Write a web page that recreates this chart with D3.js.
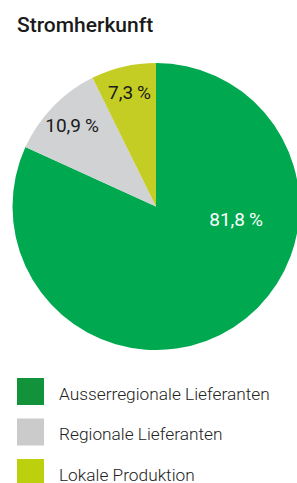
<!DOCTYPE html>
<html>
<head>
<meta charset="utf-8">
<script src="https://cdn.jsdelivr.net/npm/d3@7"></script>
<style>
  html, body { margin: 0; padding: 0; background: #fff; }
  svg { display: block; }
</style>
</head>
<body>
<div id="chart"></div>
<script>
var title = "Stromherkunft";
var categories = ["Ausserregionale Lieferanten", "Regionale Lieferanten", "Lokale Produktion"];
var shares = [81.8, 10.9, 7.3];
var sliceColors = ["#00a94f", "#d1d2d4", "#c4cd23"];
var legendColors = ["#12923a", "#cbcbcb", "#bdd00e"];
var labelColors = ["#ffffff", "#1a1a1a", "#1a1a1a"];

var width = 297, height = 483;
var cx = 156, cy = 206.5, radius = 143.5;

var svg = d3.select("#chart").append("svg")
    .attr("width", width)
    .attr("height", height);

svg.append("text")
    .attr("x", 17)
    .attr("y", 32)
    .attr("font-family", "Roboto, 'Liberation Sans', sans-serif")
    .attr("font-size", 21)
    .attr("font-weight", 500)
    .attr("fill", "#1a1a1a")
    .text(title);

var data = categories.map(function(c, i) { return {name: c, value: shares[i], i: i}; });

var pie = d3.pie()
    .sort(null)
    .value(function(d) { return d.value; });

var arc = d3.arc()
    .innerRadius(0)
    .outerRadius(radius);

var g = svg.append("g")
    .attr("transform", "translate(" + cx + "," + cy + ")");

var slices = pie(data);

g.selectAll("path")
    .data(slices)
  .enter().append("path")
    .attr("d", arc)
    .attr("fill", function(d) { return sliceColors[d.data.i]; });

// small slices: label on the bisector, big slice: label pushed towards the right
function labelPos(d) {
  var a, r;
  if (d.data.i === 0) {
    a = d.startAngle + (d.endAngle - d.startAngle) * 0.337;
    r = radius * 0.565;
  } else {
    a = (d.startAngle + d.endAngle) / 2;
    r = radius * 0.815;
  }
  return [Math.sin(a) * r, -Math.cos(a) * r];
}

g.selectAll("text.lbl")
    .data(slices)
  .enter().append("text")
    .attr("class", "lbl")
    .attr("x", function(d) { return labelPos(d)[0]; })
    .attr("y", function(d) { return labelPos(d)[1]; })
    .attr("dy", "0.35em")
    .attr("text-anchor", "middle")
    .attr("font-family", "Roboto, 'Liberation Sans', sans-serif")
    .attr("font-size", 19)
    .attr("fill", function(d) { return labelColors[d.data.i]; })
    .text(function(d) { return d3.format(".1f")(d.data.value).replace(".", ",") + "\u2009%"; });

var legend = svg.append("g")
    .attr("transform", "translate(17,378)");

var item = legend.selectAll("g")
    .data(data)
  .enter().append("g")
    .attr("transform", function(d, i) { return "translate(0," + (i * 40.5) + ")"; });

item.append("rect")
    .attr("width", 27)
    .attr("height", 27)
    .attr("fill", function(d) { return legendColors[d.i]; });

item.append("text")
    .attr("x", 42)
    .attr("y", 21.5)
    .attr("font-family", "Roboto, 'Liberation Sans', sans-serif")
    .attr("font-size", 17.3)
    .attr("font-weight", 300)
    .attr("fill", "#222")
    .text(function(d) { return d.name; });
</script>
</body>
</html>
